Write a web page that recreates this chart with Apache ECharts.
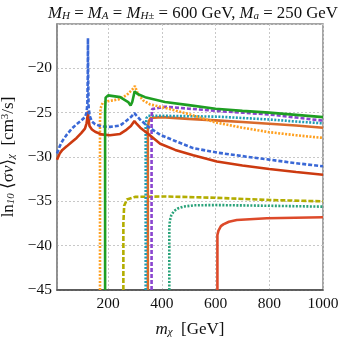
<!DOCTYPE html>
<html><head><meta charset="utf-8">
<script src="https://cdn.jsdelivr.net/npm/echarts@6/dist/echarts.min.js"></script>
<style>html,body{margin:0;padding:0;background:#fff}#c{width:345px;height:339px}</style>
</head><body><div id="c"></div>
<script>
// ---- data (m_chi [GeV], ln10 <sigma v>) ----
const blueDashed = [[10,-29.6],[20,-28.8],[30,-28.2],[46,-27.5],[65,-26.8],[83,-26.3],[100,-25.9],[114,-25.5],[120,-25.0],[123,-24.0],[124.5,-21],[125.2,-16.6],[126,-21],[127.5,-24.2],[131,-25.3],[140,-26.0],[152,-26.3],[175,-26.55],[207,-26.6],[245,-26.45],[265,-26.0],[285,-25.5],[298,-25.05],[305,-25.3],[320,-25.8],[350,-26.6],[394,-27.5],[450,-28.2],[517,-29.0],[605,-29.5],[700,-29.9],[800,-30.3],[900,-30.7],[1000,-31.05]];
const redSolid = [[10,-30.3],[20,-29.6],[30,-29.2],[46,-28.8],[65,-28.3],[83,-27.85],[100,-27.3],[114,-26.8],[120,-26.2],[123,-25.6],[125,-24.85],[127,-25.6],[131,-26.5],[140,-26.9],[152,-27.15],[175,-27.45],[207,-27.55],[245,-27.4],[265,-27.0],[285,-26.5],[298,-25.95],[305,-26.2],[320,-26.7],[350,-27.4],[394,-28.5],[450,-29.2],[517,-29.8],[605,-30.5],[700,-30.95],[800,-31.35],[900,-31.7],[1000,-32.0]];
const orangeDotted = [[170,-45],[170,-26],[172,-24.5],[180,-23.9],[200,-23.7],[240,-23.5],[270,-23.0],[290,-22.4],[300,-22.0],[310,-22.8],[330,-23.6],[356,-24.07],[412,-24.45],[505,-25.2],[600,-26.1],[700,-26.7],[800,-27.2],[900,-27.55],[1000,-27.85]];
const greenSolid = [[189,-45],[189,-25],[191,-23.3],[200,-23.05],[245,-23.25],[275,-23.8],[284,-24.2],[290,-23.8],[299,-22.6],[310,-22.9],[338,-23.25],[412,-23.8],[500,-24.15],[600,-24.55],[700,-24.8],[800,-25.0],[900,-25.25],[1000,-25.5]];
const purpleDashed = [[362,-45],[362,-25.5],[364,-24.6],[370,-24.4],[412,-24.33],[500,-24.55],[617,-24.83],[700,-25.0],[800,-25.2],[900,-25.55],[1000,-25.9]];
const tealDotted = [[340,-45],[340,-26.5],[343,-25.6],[350,-25.35],[400,-25.35],[500,-25.4],[617,-25.46],[700,-25.6],[800,-25.77],[900,-26.0],[1000,-26.2]];
const brownSolid = [[348,-45],[348,-27],[351,-26],[358,-25.6],[400,-25.5],[500,-25.7],[617,-25.9],[700,-26.05],[800,-26.25],[900,-26.45],[1000,-26.7]];
const oliveDashed = [[257,-45],[257,-37.5],[260,-35.5],[270,-34.8],[300,-34.5],[410,-34.45],[600,-34.6],[800,-34.85],[1000,-35.0]];
const mintDotted = [[428,-45],[428,-38],[430,-37.2],[435,-36.6],[445,-36.1],[460,-35.8],[480,-35.6],[520,-35.45],[600,-35.42],[800,-35.5],[1000,-35.6]];
const red2Solid = [[607,-45],[607,-38.8],[611,-38.3],[620,-37.8],[629,-37.6],[650,-37.3],[679,-37.1],[791,-36.9],[1000,-36.8]];

const serif = '"Liberation Serif","DejaVu Serif",serif';
function ln(data, color, type, w) {
  return {type:'line', data:data, showSymbol:false, symbol:'none', smooth:false, clip:true,
    lineStyle:{color:color, width:w||2.6, type:type||'solid', cap:'butt'}, z:2};
}
function rich(base, sub) {
  return {
    i:{fontFamily:serif,fontStyle:'italic',fontWeight:'normal',fontSize:base,color:'#111'},
    t:{fontFamily:serif,fontWeight:'normal',fontSize:base,color:'#111'},
    s:{fontFamily:serif,fontStyle:'italic',fontWeight:'normal',fontSize:sub,color:'#111',verticalAlign:'bottom'},
    p:{fontFamily:serif,fontWeight:'normal',fontSize:sub,color:'#111',verticalAlign:'top'}
  };
}
const chart = echarts.init(document.getElementById('c'), null, {renderer:'canvas'});
chart.setOption({
  animation:false,
  backgroundColor:'#fff',
  title:{
    text:'{i|M}{s|H}{t| = }{i|M}{s|A}{t| = }{i|M}{s|H±}{t| = 600 GeV, }{i|M}{s|a}{t| = 250 GeV}',
    left:188, top:0, textAlign:'center',
    textStyle:{fontWeight:'normal', rich:rich(16.8, 11)}
  },
  grid:{left:57, top:24, right:22, bottom:49, show:true, borderColor:'#888', borderWidth:1.5, backgroundColor:'#fff',
    containLabel:false, outerBoundsMode:'none'},
  xAxis:{type:'value', min:10, max:1000, splitNumber:5,
    name:'{i|m}{s|χ}{t|  [GeV]}', nameLocation:'middle', nameGap:31,
    nameTextStyle:{rich:rich(17, 11)},
    axisLine:{show:true,lineStyle:{color:'#444',width:1.5}}, axisTick:{show:false},
    axisLabel:{showMinLabel:false, fontFamily:serif, fontSize:15.5, color:'#111', margin:6,
      formatter:function(v){return String(v);}},
    splitLine:{show:true,lineStyle:{color:'#c8c8c8',type:[2,2],width:1}}
  },
  yAxis:{type:'value', min:-45, max:-15, interval:5,
    name:'{t|ln}{s|10}{t| ⟨σ}{i|v}{t|⟩}{s|χ}{t|  [cm}{p|3}{t|/s]}', nameLocation:'middle', nameGap:34, nameRotate:90,
    nameTextStyle:{rich:rich(17, 11)},
    axisLine:{show:true,lineStyle:{color:'#888',width:1.5}}, axisTick:{show:false},
    axisLabel:{showMaxLabel:false, fontFamily:serif, fontSize:15.5, color:'#111', margin:5,
      formatter:function(v){return String(v).replace('-','\u2212');}},
    splitLine:{show:true,lineStyle:{color:'#c8c8c8',type:[2,2],width:1}}
  },
  series:[
    ln(red2Solid,'#dd4a2a','solid'),
    ln(mintDotted,'#2aa37a',[2,1.5]),
    ln(oliveDashed,'#b3ad00',[5,2]),
    ln(brownSolid,'#d96a2a','solid'),
    ln(tealDotted,'#1f9db3',[2,1.5]),
    ln(purpleDashed,'#8a44cf',[4,2]),
    ln(orangeDotted,'#ffa020',[2,1.5]),
    ln(redSolid,'#cc3a10','solid'),
    ln(blueDashed,'#3a68d6',[4,2]),
    ln(greenSolid,'#1e9e22','solid')
  ]
});
</script></body></html>
